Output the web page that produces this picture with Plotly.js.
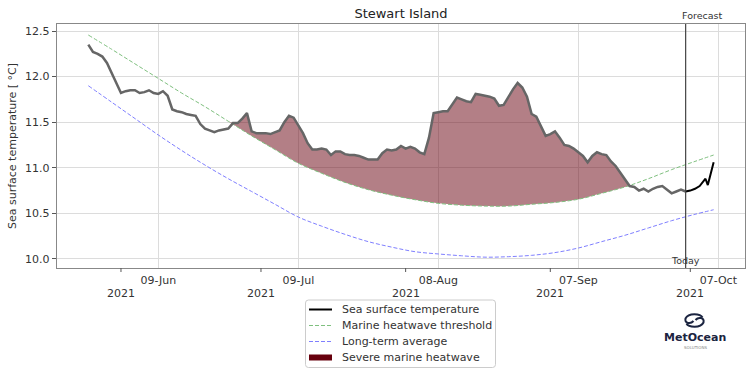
<!DOCTYPE html>
<html>
<head>
<meta charset="utf-8">
<script src="https://cdn.plot.ly/plotly-3.0.1.min.js"></script>
<style>html,body{margin:0;padding:0;background:#fff}#chart{width:754px;height:376px}</style>
</head>
<body>
<div id="chart"></div>
<script>
// ---------------- DATA ----------------
const sstStart = '2021-05-25';
const sstValues = [
  12.35, 12.27, 12.25, 12.22, 12.15, 12.04, 11.92,
  11.82, 11.84, 11.85, 11.85, 11.82, 11.83, 11.85, 11.82, 11.81, 11.84,
  11.79, 11.64, 11.62, 11.61, 11.59, 11.58, 11.57, 11.48, 11.43, 11.41,
  11.39, 11.41, 11.42, 11.43, 11.49, 11.49, 11.54, 11.60, 11.40, 11.38,
  11.38, 11.38, 11.37, 11.39, 11.41, 11.50, 11.57, 11.55, 11.47, 11.38,
  11.27, 11.20, 11.20, 11.21, 11.20, 11.14, 11.18, 11.18, 11.15, 11.14,
  11.14, 11.13, 11.11, 11.09, 11.09, 11.09, 11.16, 11.20, 11.19, 11.20, 11.24,
  11.21, 11.23, 11.21, 11.17, 11.15, 11.33, 11.60, 11.61, 11.62, 11.62,
  11.70, 11.77, 11.75, 11.73, 11.72, 11.81, 11.80, 11.79, 11.78, 11.76,
  11.68, 11.69, 11.78, 11.86, 11.93, 11.88, 11.78, 11.59, 11.56, 11.45, 11.35,
  11.37, 11.40, 11.33, 11.25, 11.24, 11.21, 11.17, 11.13, 11.06, 11.13,
  11.17, 11.15, 11.14, 11.07, 11.02, 10.95, 10.87, 10.80, 10.79, 10.75,
  10.77, 10.74, 10.77, 10.79, 10.80, 10.76, 10.72, 10.74, 10.76, 10.74
];
const fcDates = ['2021-09-30', '2021-10-01', '2021-10-02', '2021-10-03', '2021-10-04 06:00', '2021-10-04 18:00', '2021-10-06'];
const fcValues = [10.74, 10.75, 10.77, 10.80, 10.88, 10.81, 11.06];

const climDates = ['2021-05-25','2021-05-30','2021-06-04','2021-06-09','2021-06-14','2021-06-19','2021-06-24',
  '2021-06-29','2021-07-04','2021-07-09','2021-07-14','2021-07-19','2021-07-24','2021-07-29','2021-08-03',
  '2021-08-08','2021-08-13','2021-08-18','2021-08-23','2021-08-28','2021-09-02','2021-09-07','2021-09-12',
  '2021-09-17','2021-09-22','2021-09-27','2021-10-02','2021-10-06'];
const thresholdValues = [12.456, 12.30, 12.14, 11.98, 11.82, 11.67, 11.51,
  11.35, 11.20, 11.05, 10.94, 10.84, 10.76, 10.70, 10.65,
  10.61, 10.59, 10.58, 10.58, 10.60, 10.62, 10.655, 10.72,
  10.79, 10.88, 10.98, 11.07, 11.14];
const averageValues = [11.90, 11.72, 11.54, 11.36, 11.19, 11.03, 10.88,
  10.74, 10.60, 10.46, 10.36, 10.27, 10.19, 10.13, 10.08,
  10.055, 10.035, 10.02, 10.025, 10.04, 10.07, 10.12, 10.19,
  10.26, 10.34, 10.42, 10.49, 10.54];

const heatwaveSstStart = '2021-06-25', heatwaveSstEnd = '2021-09-18';
const heatwaveThrStart = '2021-06-24', heatwaveThrEnd = '2021-09-17';
const todayDate = '2021-09-30';

const tickDates = ['2021-06-09', '2021-07-09', '2021-08-08', '2021-09-07', '2021-10-07'];
const tickLabels = ['09-Jun', '09-Jul', '08-Aug', '07-Sep', '07-Oct'];
const monthDates = ['2021-06-01', '2021-07-01', '2021-08-01', '2021-09-01', '2021-10-01'];
const monthLabels = ['2021', '2021', '2021', '2021', '2021'];
const yTicks = [10.0, 10.5, 11.0, 11.5, 12.0, 12.5];
const yTickLabels = ['10.0', '10.5', '11.0', '11.5', '12.0', '12.5'];

const legendNames = ['Sea surface temperature', 'Marine heatwave threshold', 'Long-term average', 'Severe marine heatwave'];

// ---------------- BUILD ----------------
function dailyDates(start, n) {
  const out = [];
  const d0 = new Date(start + 'T00:00:00Z');
  for (let i = 0; i < n; i++) {
    const d = new Date(d0.getTime() + i * 86400000);
    out.push(d.toISOString().slice(0, 10));
  }
  return out;
}
const sstDates = dailyDates(sstStart, sstValues.length);

function subset(dates, vals, a, b) {
  const x = [], y = [];
  dates.forEach((d, i) => { if (d >= a && d <= b) { x.push(d); y.push(vals[i]); } });
  return {x, y};
}
const fillBase = subset(climDates, thresholdValues, heatwaveThrStart, heatwaveThrEnd);
const fillTop = subset(sstDates, sstValues, heatwaveSstStart, heatwaveSstEnd);

const FONT = 'DejaVu Sans, Arial, sans-serif';
const L = 57, R = 745, T = 24, B = 268;
const px = p => (p - L) / (R - L);
const py = p => (B - p) / (B - T);

const COL_SST = '#000000', COL_OBS = '#666666';
const COL_THR = '#7fc07f', COL_AVG = '#7f7fff';
const COL_HW = '#67000d', COL_HW_FILL = 'rgba(103,0,13,0.5)';

const traces = [
  {x: fillBase.x, y: fillBase.y, mode: 'lines', line: {width: 0, shape: 'spline'}, showlegend: false, hoverinfo: 'skip'},
  {x: fillTop.x, y: fillTop.y, mode: 'lines', line: {width: 0}, fill: 'tonexty',
   fillcolor: COL_HW_FILL, showlegend: false, hoverinfo: 'skip', name: legendNames[3]},
  {x: climDates, y: thresholdValues, mode: 'lines', name: legendNames[1], showlegend: false,
   line: {color: COL_THR, width: 1, dash: '4px,2px', shape: 'spline'}},
  {x: climDates, y: averageValues, mode: 'lines', name: legendNames[2], showlegend: false,
   line: {color: COL_AVG, width: 1, dash: '4px,2px', shape: 'spline'}},
  {x: sstDates, y: sstValues, mode: 'lines', showlegend: false, name: legendNames[0],
   line: {color: COL_OBS, width: 2.5}},
  {x: fcDates, y: fcValues, mode: 'lines', name: legendNames[0], showlegend: false,
   line: {color: COL_SST, width: 2}}
];

const shapes = [
  {type: 'line', xref: 'x', yref: 'paper', x0: todayDate, x1: todayDate, y0: 0, y1: 1,
   line: {color: '#444', width: 1.2}}
];
monthDates.forEach(d => shapes.push({type: 'line', xref: 'x', yref: 'paper', x0: d, x1: d,
  y0: 0, y1: py(272), line: {color: '#555', width: 1}}));

function P(x, y) { return px(x).toFixed(5) + ',' + py(y).toFixed(5); }

// legend box (rounded) drawn manually to match the compact spacing
const lx0 = 305.5, lx1 = 495.5, ly0 = 300, ly1 = 367.5, rr = 3;
shapes.push({type: 'path', xref: 'paper', yref: 'paper', fillcolor: '#ffffff', line: {color: '#cccccc', width: 1},
  path: 'M' + P(lx0 + rr, ly0) + ' L' + P(lx1 - rr, ly0) + ' Q' + P(lx1, ly0) + ' ' + P(lx1, ly0 + rr) +
        ' L' + P(lx1, ly1 - rr) + ' Q' + P(lx1, ly1) + ' ' + P(lx1 - rr, ly1) +
        ' L' + P(lx0 + rr, ly1) + ' Q' + P(lx0, ly1) + ' ' + P(lx0, ly1 - rr) +
        ' L' + P(lx0, ly0 + rr) + ' Q' + P(lx0, ly0) + ' ' + P(lx0 + rr, ly0) + ' Z'});
const rowY = [309.5, 325.5, 341.5, 357.5];
const sx0 = 309, sx1 = 332;
shapes.push({type: 'line', xref: 'paper', yref: 'paper', x0: px(sx0), x1: px(sx1), y0: py(rowY[0]), y1: py(rowY[0]),
  line: {color: COL_SST, width: 2}});
shapes.push({type: 'line', xref: 'paper', yref: 'paper', x0: px(sx0), x1: px(sx1), y0: py(rowY[1]), y1: py(rowY[1]),
  line: {color: COL_THR, width: 1, dash: '4px,2px'}});
shapes.push({type: 'line', xref: 'paper', yref: 'paper', x0: px(sx0), x1: px(sx1), y0: py(rowY[2]), y1: py(rowY[2]),
  line: {color: COL_AVG, width: 1, dash: '4px,2px'}});
shapes.push({type: 'rect', xref: 'paper', yref: 'paper', x0: px(sx0), x1: px(sx1), y0: py(rowY[3] - 3), y1: py(rowY[3] + 3),
  fillcolor: COL_HW, line: {width: 0}});

// logo icon
const cx = 694.5, cy = 320.5;
const logoLine = {color: '#1b2440', width: 2};
shapes.push({type: 'path', xref: 'paper', yref: 'paper', line: logoLine,
  path: 'M' + P(cx + 8, cy - 3) + ' C' + P(cx + 6, cy - 7) + ' ' + P(cx - 6, cy - 8) + ' ' + P(cx - 9, cy - 2) +
        ' C' + P(cx - 10, cy + 3) + ' ' + P(cx - 4, cy + 4) + ' ' + P(cx - 1, cy + 0.5)});
shapes.push({type: 'path', xref: 'paper', yref: 'paper', line: logoLine,
  path: 'M' + P(cx - 8, cy + 3) + ' C' + P(cx - 6, cy + 7) + ' ' + P(cx + 6, cy + 8) + ' ' + P(cx + 9, cy + 2) +
        ' C' + P(cx + 10, cy - 3) + ' ' + P(cx + 4, cy - 4) + ' ' + P(cx + 1, cy - 0.5)});

const annotations = monthDates.map((d, i) => ({x: d, xref: 'x', y: py(293), yref: 'paper',
  text: monthLabels[i], showarrow: false, xanchor: 'center', yanchor: 'middle',
  font: {family: FONT, size: 11, color: '#333'}}));
legendNames.forEach((n, i) => annotations.push({x: px(340), xref: 'paper', y: py(rowY[i]), yref: 'paper',
  text: n, showarrow: false, xanchor: 'left', yanchor: 'middle', font: {family: FONT, size: 11, color: '#333'}}));
annotations.push({x: todayDate, xref: 'x', y: py(260), yref: 'paper', text: 'Today', showarrow: false,
  xanchor: 'center', yanchor: 'middle', font: {family: FONT, size: 9.5, color: '#333'}});
annotations.push({x: todayDate, xref: 'x', y: py(16), yref: 'paper', text: 'Forecast', showarrow: false,
  xanchor: 'left', xshift: -6, yanchor: 'middle', font: {family: FONT, size: 9.5, color: '#333'}});
annotations.push({x: px(695), xref: 'paper', y: py(337.5), yref: 'paper', text: '<b>MetOcean</b>', showarrow: false,
  xanchor: 'center', yanchor: 'middle', font: {family: FONT, size: 11, color: '#1b2440'}});
annotations.push({x: px(695), xref: 'paper', y: py(347.5), yref: 'paper', text: 'SOLUTIONS', showarrow: false,
  xanchor: 'center', yanchor: 'middle', font: {family: FONT, size: 4, color: '#888'}});

const layout = {
  width: 754, height: 376,
  margin: {l: L, r: 754 - R, t: T, b: 376 - B, pad: 0, autoexpand: false},
  paper_bgcolor: '#fff', plot_bgcolor: '#fff',
  font: {family: FONT, size: 11, color: '#333'},
  title: {text: 'Stewart Island', x: px(401), xref: 'paper', xanchor: 'center',
          y: 1 - 13 / 376, yref: 'container', yanchor: 'middle',
          font: {family: FONT, size: 13, color: '#222'}},
  xaxis: {type: 'date', range: ['2021-05-18 07:00', '2021-10-12 17:15'], automargin: false,
          tickmode: 'array', tickvals: tickDates, ticktext: tickLabels, ticks: '',
          showgrid: true, gridcolor: '#dcdcdc', gridwidth: 1, zeroline: false,
          showline: true, mirror: true, linecolor: '#888', linewidth: 1.3,
          tickfont: {family: FONT, size: 11, color: '#333'}, ticklabelstandoff: 1},
  yaxis: {range: [9.901, 12.577], automargin: false, tickmode: 'array', tickvals: yTicks,
          ticktext: yTickLabels,
          ticks: 'outside', ticklen: 4, tickcolor: '#555',
          showgrid: true, gridcolor: '#dcdcdc', gridwidth: 1, zeroline: false,
          showline: true, mirror: true, linecolor: '#888', linewidth: 1.3,
          tickfont: {family: FONT, size: 11, color: '#333'},
          title: {text: 'Sea surface temperature [ °C]', standoff: 6, font: {family: FONT, size: 11, color: '#333'}}},
  showlegend: false,
  shapes: shapes, annotations: annotations,
  hovermode: false
};

Plotly.newPlot('chart', traces, layout, {staticPlot: true, displayModeBar: false});
</script>
</body>
</html>
